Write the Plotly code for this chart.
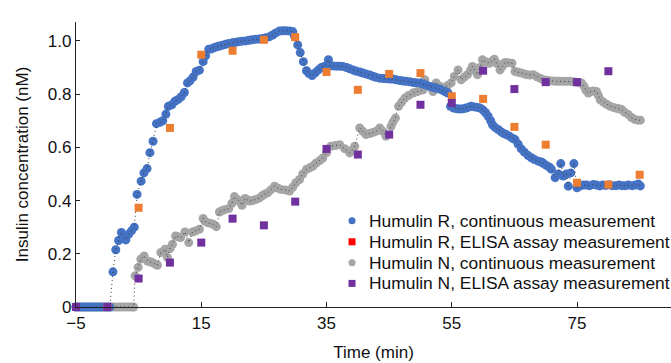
import plotly.graph_objects as go

# ---------------- data ----------------
time_r = [-5, -4.5, -4, -3.5, -3, -2.5, -2, -1.5, -1, -0.5, 0, 0.4,
          0.9, 1.35, 1.8, 2.25, 2.7, 2.95, 3.4, 3.85, 4.3, 4.75, 5.4, 5.85,
          6.35, 6.8, 7.3, 7.85, 8.4, 8.85, 9.35, 9.75, 10.3, 10.8, 11.3, 11.8,
          12.3, 12.8, 13.2, 13.7, 14.2, 14.7, 15.3, 15.7, 16.2, 16.6, 17.0,
          17.5, 17.9, 18.4, 18.9, 19.4, 20.0, 20.5, 21.0, 21.5, 22.1, 22.6,
          23.1, 23.7, 24.3, 24.8, 25.3, 25.9, 26.4, 26.9, 27.5, 28.0, 28.5,
          29.1, 29.6, 29.9, 30.4, 30.8, 31.3, 31.8, 32.2, 32.7, 33.2, 33.7,
          34.2, 34.7, 35.3, 35.6, 36.1, 36.6, 37.1, 37.6, 38.2, 38.7, 39.2,
          39.7, 40.3, 40.8, 41.3, 41.9, 42.4, 42.9, 43.5, 44.0, 44.5, 45.1,
          45.6, 46.1, 46.7, 47.2, 47.7, 48.3, 48.8, 49.3, 49.9, 50.4, 50.9,
          51.5, 52.0, 52.5, 53.1, 53.6, 54.1, 54.4, 54.8, 55.3, 55.8, 56.3,
          56.8, 57.3, 57.8, 58.1, 58.6, 59.1, 59.5, 60.0, 60.4, 60.8, 61.2,
          61.5, 61.9, 62.4, 62.9, 63.3, 63.7, 64.2, 64.7, 65.1, 65.6, 66.1,
          66.6, 67.2, 67.7, 68.2, 68.8, 69.3, 69.6, 70.1, 70.6, 70.9, 71.5,
          72.0, 72.4, 72.8, 73.3, 73.6, 74.0, 74.5, 75.0, 75.5, 76.0, 76.5,
          77.0, 77.6, 78.1, 78.6, 79.1, 79.6, 80.1, 80.6, 81.2, 81.7, 82.2,
          82.7, 83.2, 83.8, 84.3, 84.8, 85.1]
conc_r = [0, 0, 0, 0, 0, 0, 0, 0, 0, 0, 0, 0,
          0.132, 0.215, 0.25, 0.28, 0.26, 0.252, 0.273, 0.286, 0.30, 0.423,
          0.473, 0.504, 0.52, 0.58, 0.623, 0.689, 0.694, 0.70, 0.725, 0.754,
          0.76, 0.773, 0.78, 0.79, 0.806, 0.842, 0.85, 0.864, 0.885, 0.89,
          0.922, 0.944, 0.969, 0.970, 0.974, 0.978, 0.981, 0.984, 0.987,
          0.990, 0.993, 0.995, 0.997, 0.999, 1.0, 1.002, 1.004, 1.006, 1.007,
          1.009, 1.012, 1.016, 1.022, 1.03, 1.037, 1.038, 1.038, 1.037, 1.035,
          1.017, 0.985, 0.956, 0.922, 0.888, 0.877, 0.87, 0.88, 0.891, 0.90,
          0.905, 0.929, 0.906, 0.906, 0.905, 0.905, 0.904, 0.90, 0.895, 0.891,
          0.887, 0.883, 0.879, 0.876, 0.872, 0.867, 0.863, 0.86, 0.859, 0.858,
          0.857, 0.857, 0.854, 0.851, 0.849, 0.848, 0.846, 0.844, 0.843,
          0.842, 0.838, 0.834, 0.829, 0.826, 0.822, 0.819, 0.813, 0.808,
          0.804, 0.754, 0.748, 0.745, 0.744, 0.745, 0.748, 0.752, 0.754,
          0.752, 0.75, 0.748, 0.74, 0.73, 0.717, 0.70, 0.685, 0.675, 0.667,
          0.658, 0.652, 0.648, 0.642, 0.634, 0.629, 0.612, 0.594, 0.582,
          0.569, 0.561, 0.554, 0.548, 0.545, 0.540, 0.532, 0.525, 0.518,
          0.486, 0.50, 0.539, 0.492, 0.50, 0.454, 0.504, 0.539, 0.448, 0.455,
          0.458, 0.458, 0.456, 0.46, 0.458, 0.455, 0.458, 0.457, 0.459, 0.456,
          0.456, 0.458, 0.456, 0.456, 0.458, 0.456, 0.458, 0.462, 0.455]

time_n = [-5, -4.5, -4, -3.5, -3, -2.5, -2, -1.5, -1, -0.5, 0, 0.5, 1.0,
          1.5, 2.0, 2.5, 3.0, 3.5, 4.0, 4.2,
          4.44, 4.92, 5.35, 5.88, 6.41, 6.8, 7.2, 7.6, 8.0, 8.55, 9.0, 9.24,
          9.6, 10.0, 10.4, 10.9, 11.3, 11.7, 12.4, 13.0, 13.6, 14.1, 14.7,
          15.3, 15.6, 16.0, 16.5, 16.9, 17.4, 17.9, 18.3, 18.7, 19.4, 19.9,
          20.3, 20.7, 21.1, 21.5, 22.0, 22.4, 22.7, 23.2, 23.7, 24.3, 24.8,
          25.2, 25.6, 26.1, 26.7, 27.2, 27.7, 28.4, 29.1, 29.6, 30.1, 30.7,
          31.2, 31.8, 32.3, 32.8, 33.3, 33.9, 34.4, 35.0, 35.7, 36.4, 37.1,
          37.9, 38.7, 39.1, 39.5, 40.3, 40.8, 41.3, 41.9, 42.4, 42.9, 43.5,
          44.0, 44.5, 45.3, 45.6, 46.0, 46.5, 47.0, 47.5, 48.1, 48.8, 49.4,
          49.9, 50.4, 50.7, 51.3, 52.0, 52.5, 53.1, 53.8, 54.3, 54.9, 55.4,
          56.0, 56.5, 57.0, 57.5, 58.0, 58.3, 58.7, 59.1, 59.5, 59.9, 60.4,
          61.0, 61.4, 61.8, 62.2, 62.7, 63.1, 63.5, 64.0, 64.6, 65.1, 65.6,
          66.1, 66.6, 67.0, 67.5, 68.0, 68.6, 69.1, 69.6, 70.1, 70.6, 71.2,
          71.7, 72.2, 72.8, 73.3, 73.9, 74.4, 74.9, 75.3, 75.7, 76.1, 76.4,
          76.8, 77.2, 77.6, 78.1, 78.4, 78.7, 79.2, 79.7, 80.3, 80.8, 81.3,
          81.7, 82.1, 82.6, 83.2, 83.7, 84.2, 84.7, 85.1]
conc_n = [0, 0, 0, 0, 0, 0, 0, 0, 0, 0, 0, 0, 0, 0, 0, 0, 0, 0, 0, 0,
          0.117, 0.149, 0.18, 0.192, 0.173, 0.17, 0.167, 0.162, 0.157, 0.205,
          0.21, 0.217, 0.186, 0.22, 0.236, 0.267, 0.264, 0.261, 0.282, 0.242,
          0.282, 0.286, 0.292, 0.333, 0.322, 0.317, 0.314, 0.311, 0.302,
          0.357, 0.362, 0.365, 0.37, 0.39, 0.415, 0.405, 0.398, 0.382, 0.408,
          0.402, 0.398, 0.40, 0.404, 0.41, 0.419, 0.425, 0.429, 0.44, 0.454,
          0.447, 0.442, 0.44, 0.436, 0.45, 0.467, 0.479, 0.50, 0.517, 0.523,
          0.529, 0.54, 0.55, 0.56, 0.58, 0.604, 0.607, 0.61, 0.595, 0.579,
          0.59, 0.604, 0.673, 0.66, 0.648, 0.652, 0.656, 0.66, 0.673, 0.66,
          0.642, 0.679, 0.695, 0.71, 0.754, 0.77, 0.785, 0.795, 0.804, 0.809,
          0.813, 0.816, 0.854, 0.83, 0.81, 0.842, 0.83, 0.823, 0.832, 0.842,
          0.866, 0.891, 0.854, 0.864, 0.873, 0.89, 0.904, 0.888, 0.873, 0.9,
          0.929, 0.922, 0.916, 0.924, 0.931, 0.915, 0.891, 0.905, 0.919,
          0.918, 0.916, 0.885, 0.882, 0.879, 0.876, 0.873, 0.872, 0.873,
          0.865, 0.86, 0.854, 0.852, 0.85, 0.849, 0.848, 0.848, 0.848, 0.848,
          0.848, 0.846, 0.845, 0.843, 0.842, 0.83, 0.815, 0.804, 0.81, 0.812,
          0.81, 0.795, 0.779, 0.77, 0.762, 0.754, 0.75, 0.747, 0.745, 0.742,
          0.732, 0.723, 0.712, 0.705, 0.702, 0.702]

elisa_time_r = [-5, 0, 5, 10, 15, 20, 25, 30, 35, 40, 45, 50, 55, 60, 65,
                70, 75, 80, 85]
elisa_r = [0, 0, 0.373, 0.673, 0.948, 0.963, 1.004, 1.014, 0.883, 0.816,
           0.876, 0.879, 0.792, 0.782, 0.677, 0.61, 0.467, 0.46, 0.497]

elisa_time_n = [-5, 0, 5, 10, 15, 20, 25, 30, 35, 40, 45, 50, 55, 60, 65,
                70, 75, 80]
elisa_n = [0, 0, 0.107, 0.167, 0.242, 0.332, 0.307, 0.396, 0.594, 0.573,
           0.648, 0.76, 0.767, 0.888, 0.819, 0.845, 0.845, 0.886]

x_tick_vals = [-5, 15, 35, 55, 75]
y_tick_vals = [0, 0.2, 0.4, 0.6, 0.8, 1.0]
y_tick_text = ["0", "0.2", "0.4", "0.6", "0.8", "1.0"]

series_names = ["Humulin R, continuous measurement",
                "Humulin R, ELISA assay measurement",
                "Humulin N, continuous measurement",
                "Humulin N, ELISA assay measurement"]

# ---------------- styles ----------------
BLUE = "#4472C4"
ORANGE = "#ED7D31"
RED = "#FF0000"
GREY = "#A5A5A5"
PURPLE = "#7030A0"
DOT_LINE = dict(color="#3a3a3a", width=1, dash="1px,3px")
FONT = "Liberation Sans, Arial, Helvetica, sans-serif"
TXT = "#111111"

fig = go.Figure()

# grey (Humulin N) continuous
fig.add_trace(go.Scatter(x=time_n, y=conc_n, mode="markers", name=series_names[2],
                         showlegend=False,
                         marker=dict(color=GREY, size=9, line=dict(width=0)),
                         cliponaxis=False, hoverinfo="skip"))
fig.add_trace(go.Scatter(x=time_n, y=conc_n, mode="lines", showlegend=False,
                         line=DOT_LINE, cliponaxis=False, hoverinfo="skip"))
# blue (Humulin R) continuous
fig.add_trace(go.Scatter(x=time_r, y=conc_r, mode="markers", name=series_names[0],
                         showlegend=False,
                         marker=dict(color=BLUE, size=9, line=dict(width=0)),
                         cliponaxis=False, hoverinfo="skip"))
fig.add_trace(go.Scatter(x=time_r, y=conc_r, mode="lines", showlegend=False,
                         line=DOT_LINE, cliponaxis=False, hoverinfo="skip"))
# ELISA
fig.add_trace(go.Scatter(x=elisa_time_r, y=elisa_r, mode="markers",
                         name=series_names[1], showlegend=False,
                         marker=dict(color=ORANGE, size=8, symbol="square",
                                     line=dict(width=0)),
                         cliponaxis=False))
fig.add_trace(go.Scatter(x=elisa_time_n, y=elisa_n, mode="markers",
                         name=series_names[3], showlegend=False,
                         marker=dict(color=PURPLE, size=8, symbol="square",
                                     line=dict(width=0)),
                         cliponaxis=False))

# ---------------- legend (compact, drawn in paper coordinates) ----------------
legend_styles = [(BLUE, "circle"), (RED, "rect"), (GREY, "circle"), (PURPLE, "rect")]
leg_sym_x = 0.4639      # paper x of legend symbols
leg_txt_x = 0.489       # paper x where legend text starts
leg_row_y = [0.3025, 0.2288, 0.1551, 0.0828]   # paper y of the four rows
shapes = []
annotations = []
for name, (col, kind), yy in zip(series_names, legend_styles, leg_row_y):
    size = 7 if kind == "circle" else 7
    shapes.append(dict(type=kind, xref="paper", yref="paper",
                       xsizemode="pixel", ysizemode="pixel",
                       xanchor=leg_sym_x, yanchor=yy,
                       x0=-size / 2, x1=size / 2, y0=-size / 2, y1=size / 2,
                       fillcolor=col, line=dict(width=0), layer="above"))
    annotations.append(dict(text=name, xref="paper", yref="paper",
                            x=leg_txt_x, y=yy, xanchor="left", yanchor="middle",
                            showarrow=False,
                            font=dict(family=FONT, size=17.4, color=TXT)))

axis_common = dict(showline=True, linecolor="#222222", linewidth=1.3,
                   showgrid=False, zeroline=False, ticks="inside",
                   tickcolor="#222222", tickwidth=1.3,
                   tickfont=dict(family=FONT, size=17, color=TXT))

fig.update_layout(
    width=671, height=363,
    margin=dict(l=76, r=0, t=22, b=56),
    paper_bgcolor="white", plot_bgcolor="white",
    font=dict(family=FONT, size=17, color=TXT),
    showlegend=False,
    shapes=shapes,
    annotations=annotations,
    xaxis=dict(range=[-5, 90], tickvals=x_tick_vals, ticklen=5,
               title=dict(text="Time (min)", standoff=14,
                          font=dict(family=FONT, size=17, color=TXT)),
               **axis_common),
    yaxis=dict(range=[0, 1.071], tickvals=y_tick_vals, ticktext=y_tick_text,
               ticklen=4,
               title=dict(text="Insulin concentration (nM)", standoff=14,
                          font=dict(family=FONT, size=17, color=TXT)),
               **axis_common),
)

fig.write_html("out.html")
